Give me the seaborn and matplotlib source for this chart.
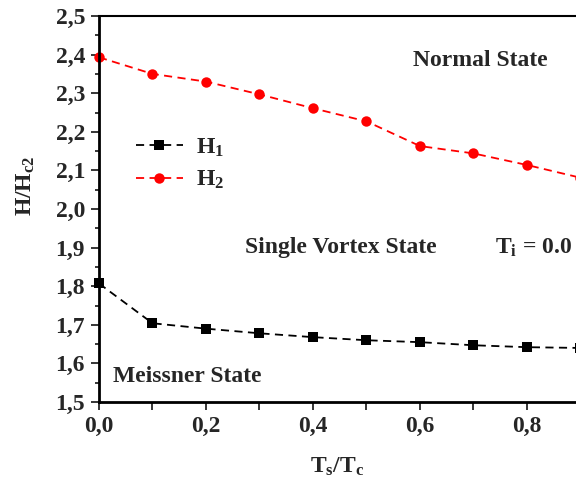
import numpy as np
import pandas as pd
import matplotlib
matplotlib.use("Agg")
import matplotlib.pyplot as plt
import seaborn as sns
from matplotlib.ticker import MultipleLocator, FuncFormatter

# data
ts_tc = [0.0, 0.1, 0.2, 0.3, 0.4, 0.5, 0.6, 0.7, 0.8, 0.9]
h1 = [1.807, 1.704, 1.690, 1.678, 1.668, 1.660, 1.655, 1.647, 1.642, 1.640]
h2 = [2.393, 2.350, 2.330, 2.297, 2.261, 2.227, 2.163, 2.144, 2.114, 2.081]

sns.set_style('white')
plt.rcParams['font.family'] = ['Liberation Serif', 'DejaVu Serif']
plt.rcParams['font.weight'] = 'bold'
plt.rcParams['axes.labelweight'] = 'bold'
plt.rcParams['mathtext.fontset'] = 'custom'
plt.rcParams['mathtext.rm'] = 'Liberation Serif:bold'
plt.rcParams['mathtext.it'] = 'Liberation Serif:bold'
plt.rcParams['mathtext.bf'] = 'Liberation Serif:bold'

fig = plt.figure(figsize=(5.76, 4.83), dpi=100)
ax = fig.add_axes([99/576, 81/483, 1 - 99/576, (402-16)/483])

df = pd.DataFrame({'x': ts_tc, 'H1': h1, 'H2': h2})
sns.lineplot(data=df, x='x', y='H1', ax=ax, color='black', linestyle=(0, (4.5, 3)),
             lw=1.3, marker='s', markersize=6.5, markeredgewidth=0,
             label=r'H$_\mathrm{1}$', clip_on=False)
sns.lineplot(data=df, x='x', y='H2', ax=ax, color='#ff0000', linestyle=(0, (4.5, 3)),
             lw=1.3, marker='o', markersize=7.5, markeredgewidth=0,
             label=r'H$_\mathrm{2}$', clip_on=False)

ax.set_xlim(0, 0.8916)
ax.set_ylim(1.5, 2.5)
ax.xaxis.set_major_locator(MultipleLocator(0.2))
ax.xaxis.set_minor_locator(MultipleLocator(0.1))
ax.yaxis.set_major_locator(MultipleLocator(0.1))
ax.yaxis.set_minor_locator(MultipleLocator(0.05))
comma = FuncFormatter(lambda v, p: f"{v:.1f}".replace('.', ','))
ax.xaxis.set_major_formatter(comma)
ax.yaxis.set_major_formatter(comma)
ax.tick_params(axis='both', which='major', labelsize=17, direction='out', length=6, width=1.3,
               bottom=True, left=True, top=False, right=False, pad=4)
ax.tick_params(axis='x', which='minor', direction='out', length=6, width=1.3, bottom=True)
ax.tick_params(axis='y', which='minor', direction='out', length=3, width=1.3, left=True)

for s in ['left', 'bottom']:
    ax.spines[s].set_linewidth(2)
ax.spines['top'].set_linewidth(1.5)
ax.spines['right'].set_visible(False)
for s in ax.spines.values():
    s.set_color('black')

ax.set_xlabel(r'T$_\mathrm{s}$/T$_\mathrm{c}$', fontsize=17)
ax.set_ylabel(r'H/H$_\mathrm{c2}$', fontsize=17)
ax.xaxis.set_label_coords(0.50, -0.14)
ax.yaxis.set_label_coords(-0.13, 0.56)

ax.text(0.587, 2.386, 'Normal State', fontsize=17, va='center')
ax.text(0.273, 1.899, 'Single Vortex State', fontsize=17, va='center')
ax.text(0.740, 1.899, r'T$_\mathrm{i}$ = 0.0', fontsize=17, va='center')
ax.text(0.026, 1.567, 'Meissner State', fontsize=17, va='center')

leg = ax.legend(loc='center left', bbox_to_anchor=(0.032, 0.617), frameon=False, fontsize=17,
                handlelength=2.0, labelspacing=0.45, handletextpad=0.55)

fig.savefig('out.png', dpi=100)
